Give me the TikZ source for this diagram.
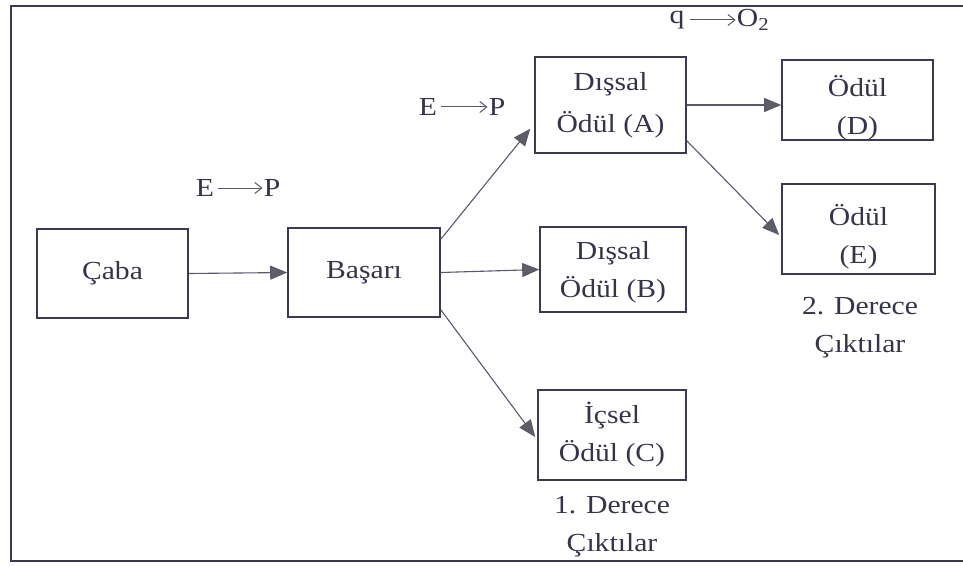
\documentclass[tikz,border=0pt]{standalone}
\usepackage{fontspec}
\setmainfont[FakeStretch=1.14]{Liberation Serif}
\usetikzlibrary{arrows.meta}
\definecolor{ink}{HTML}{3A3A55}
\definecolor{tipgray}{HTML}{5E5E66}
\begin{document}
\begin{tikzpicture}[x=1pt,y=-1pt,
  box/.style={draw=ink,line width=1.6pt,rectangle,inner sep=0pt,align=center,
    font=\fontsize{26}{38}\selectfont,text=ink!90!black},
  conn/.style={draw=ink!85,line width=1.1pt,
    -{Triangle[length=17pt,width=14pt,fill=tipgray]}},
  lbl/.style={inner sep=0pt,font=\fontsize{26}{38}\selectfont,text=ink!90!black},
  txt/.style={inner sep=0pt,align=center,font=\fontsize{26}{38}\selectfont,text=ink!90!black},
  small/.style={draw=ink!85,line width=1pt,-{Straight Barb[length=7pt,width=11pt]}}]
\useasboundingbox (0,0) rectangle (963,567);
\draw[ink,line width=1.6pt] (963,6) -- (11,6) -- (11,561) -- (963,561);

\node[box,minimum width=151pt,minimum height=89pt] (caba) at (112.5,273.5) {Çaba};
\node[box,minimum width=152pt,minimum height=89pt] (basari) at (364,272.5) {Başarı};
\node[box,minimum width=151pt,minimum height=96pt,
  label={[txt]center:Dışsal\\[4pt]Ödül (A)}] (A) at (610.5,105) {};
\node[box,minimum width=146pt,minimum height=85pt,
  label={[txt,yshift=-3pt]center:Dışsal\\Ödül (B)}] (B) at (613,269.5) {};
\node[box,minimum width=148pt,minimum height=90pt] (C) at (612,435) {İçsel\\Ödül (C)};
\node[box,minimum width=151pt,minimum height=80pt,
  label={[txt,yshift=-8pt]center:Ödül\\(D)}] (D) at (857.5,100) {};
\node[box,minimum width=153pt,minimum height=90pt,
  label={[txt,yshift=-8pt]center:Ödül\\(E)}] (E) at (858.5,229) {};

\node[txt] (o1) at (612,527) {1. Derece\\Çıktılar};
\node[txt] (o2) at (860,328) {2. Derece\\Çıktılar};

\node[lbl] (e1) at (205,188) {E};
\node[lbl] (p1) at (272,188) {P};
\draw[small] ([xshift=4pt]e1.east) -- ([xshift=-1pt]p1.west);
\node[lbl] (e2) at (428,107) {E};
\node[lbl] (p2) at (497,107) {P};
\draw[small] ([xshift=4pt]e2.east) -- ([xshift=-1pt]p2.west);
\node[lbl] (q) at (677,20) {q};
\node[lbl] (o) at (753,20) {O\textsubscript{2}};
\draw[small] ([xshift=5pt]q.east) -- ([xshift=-1pt]o.west);

\draw[conn] (caba.east) -- (basari.west);
\draw[conn] ([yshift=-12pt]basari.north east) -- ([xshift=-4pt,yshift=25pt]A.south west);
\draw[conn] (basari.east) -- (B.west);
\draw[conn] ([yshift=8pt]basari.south east) -- ([xshift=-2pt,yshift=-2pt]C.west);
\draw[conn] (A.east) -- (A.east -| D.west);
\draw[conn] ([yshift=13pt]A.south east) -- ([xshift=-2pt,yshift=-6pt]E.west);
\end{tikzpicture}
\end{document}
